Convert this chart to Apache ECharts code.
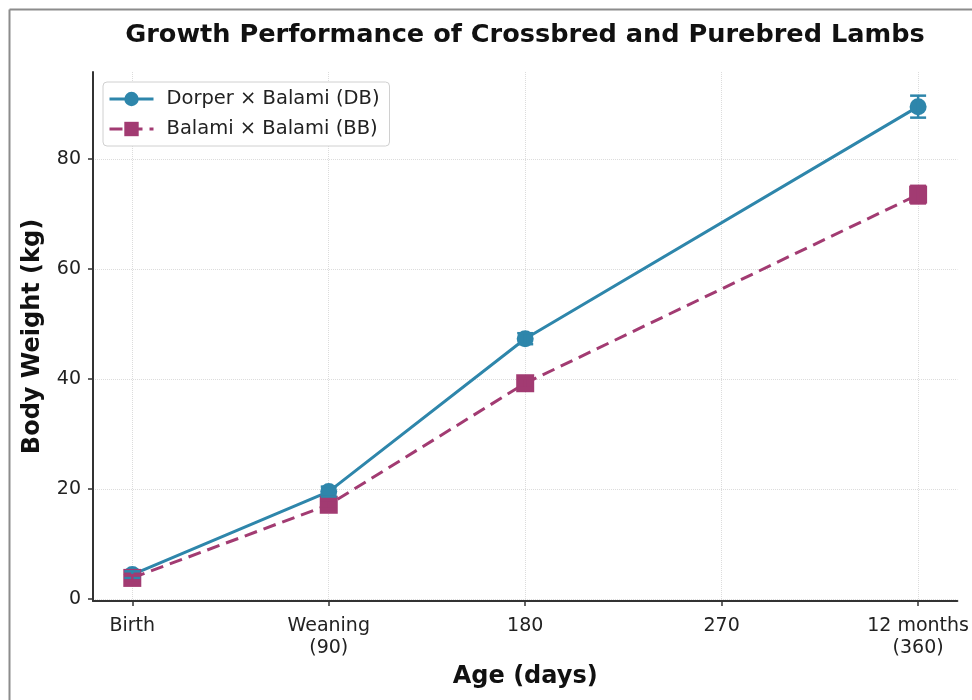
<!DOCTYPE html>
<html>
<head>
<meta charset="utf-8">
<script src="https://cdn.jsdelivr.net/npm/echarts@6/dist/echarts.min.js"></script>
<style>
html,body{margin:0;padding:0;background:#fff;}
#chart{width:972px;height:700px;}
</style>
</head>
<body>
<div id="chart"></div>
<script>
// ---- data ----
var days = [0, 90, 180, 360];
var tickValues = [0, 90, 180, 270, 360];
var tickLabels = ['Birth', 'Weaning\n(90)', '180', '270', '12 months\n(360)'];
var yTickValues = [0, 20, 40, 60, 80];
var dbName = 'Dorper \u00d7 Balami (DB)';
var bbName = 'Balami \u00d7 Balami (BB)';
var dbWeight = [4.4, 19.5, 47.3, 89.5];
var dbError = [0.6, 0.9, 1.0, 2.0];
var bbWeight = [3.8, 17.1, 39.2, 73.5];
var bbError = [0.5, 0.8, 0.9, 1.6];

var DB_COLOR = '#2E86AB';
var BB_COLOR = '#A23B72';
var FONT = 'DejaVu Sans';

function pairs(xs, ys) { return xs.map(function (x, i) { return [x, ys[i]]; }); }
function errData(xs, ys, es) { return xs.map(function (x, i) { return [x, ys[i] - es[i], ys[i] + es[i]]; }); }

function errRender(color) {
  return function (params, api) {
    var x = api.value(0);
    var lo = api.coord([x, api.value(1)]);
    var hi = api.coord([x, api.value(2)]);
    var cap = 8;
    var style = { stroke: color, lineWidth: 2.5, fill: null };
    return {
      type: 'group',
      children: [
        { type: 'line', shape: { x1: lo[0], y1: lo[1], x2: hi[0], y2: hi[1] }, style: style },
        { type: 'line', shape: { x1: lo[0] - cap, y1: lo[1], x2: lo[0] + cap, y2: lo[1] }, style: style },
        { type: 'line', shape: { x1: hi[0] - cap, y1: hi[1], x2: hi[0] + cap, y2: hi[1] }, style: style }
      ]
    };
  };
}

var chart = echarts.init(document.getElementById('chart'), null, { renderer: 'canvas' });
chart.setOption({
  backgroundColor: '#ffffff',
  animation: false,
  textStyle: { fontFamily: FONT },
  graphic: [
    { type: 'line', shape: { x1: 9.5, y1: 9.5, x2: 972, y2: 9.5 }, style: { stroke: '#8c8c8c', lineWidth: 2 } },
    { type: 'line', shape: { x1: 9.5, y1: 9.5, x2: 9.5, y2: 700 }, style: { stroke: '#8c8c8c', lineWidth: 2 } },
    { type: 'text', x: 525, y: 35, style: { text: 'Growth Performance of Crossbred and Purebred Lambs', fontFamily: FONT, fontWeight: 'bold', fontSize: 25.6, fill: '#111', textAlign: 'center', textVerticalAlign: 'middle' } }
  ],
  legend: {
    data: [dbName, bbName],
    left: 103, top: 82,
    orient: 'vertical',
    backgroundColor: '#fff',
    borderColor: '#d0d0d0', borderWidth: 1, borderRadius: 4,
    padding: [7, 10, 7, 5],
    itemGap: 10,
    itemWidth: 44, itemHeight: 18,
    lineStyle: { width: 3 },
    textStyle: { fontFamily: FONT, fontSize: 19.5, color: '#222', padding: [0, 0, 0, 8] }
  },
  grid: { left: 93, right: 14, top: 72, bottom: 99, containLabel: false },
  xAxis: {
    type: 'value',
    min: -18, max: 378,
    name: 'Age (days)', nameLocation: 'middle', nameGap: 64,
    nameTextStyle: { fontFamily: FONT, fontWeight: 'bold', fontSize: 24, color: '#111' },
    axisLine: { show: true, onZero: false, lineStyle: { color: '#333', width: 2 } },
    axisTick: { show: true, length: 5, lineStyle: { color: '#333', width: 1.5 }, customValues: tickValues },
    axisLabel: {
      customValues: tickValues, margin: 14, lineHeight: 22,
      fontFamily: FONT, fontSize: 19, color: '#222',
      formatter: function (v) { var i = tickValues.indexOf(v); return i >= 0 ? tickLabels[i] : ''; }
    },
    splitLine: { show: true, lineStyle: { color: '#dcdcdc', type: 'dotted', width: 1 } }
  },
  yAxis: {
    type: 'value',
    min: -0.4, max: 95.8,
    name: 'Body Weight (kg)', nameLocation: 'middle', nameGap: 48,
    nameTextStyle: { fontFamily: FONT, fontWeight: 'bold', fontSize: 24, color: '#111' },
    axisLine: { show: true, onZero: false, lineStyle: { color: '#333', width: 2 } },
    axisTick: { show: true, length: 5, lineStyle: { color: '#333', width: 1.5 }, customValues: yTickValues },
    axisLabel: { customValues: yTickValues, margin: 12, fontFamily: FONT, fontSize: 19, color: '#222' },
    splitLine: { show: true, lineStyle: { color: '#dcdcdc', type: 'dotted', width: 1 } }
  },
  series: [
    {
      name: dbName, type: 'line', data: pairs(days, dbWeight),
      symbol: 'circle', symbolSize: 17, color: DB_COLOR,
      lineStyle: { width: 3, color: DB_COLOR },
      itemStyle: { color: DB_COLOR }, z: 3
    },
    {
      name: bbName, type: 'line', data: pairs(days, bbWeight),
      symbol: 'rect', symbolSize: 18, color: BB_COLOR,
      lineStyle: { width: 3, color: BB_COLOR, type: [13, 7] },
      itemStyle: { color: BB_COLOR }, z: 3
    },
    { name: 'dbErr', type: 'custom', data: errData(days, dbWeight, dbError), renderItem: errRender(DB_COLOR), encode: { x: 0, y: [1, 2] }, z: 4 },
    { name: 'bbErr', type: 'custom', data: errData(days, bbWeight, bbError), renderItem: errRender(BB_COLOR), encode: { x: 0, y: [1, 2] }, z: 4 }
  ]
});
</script>
</body>
</html>
